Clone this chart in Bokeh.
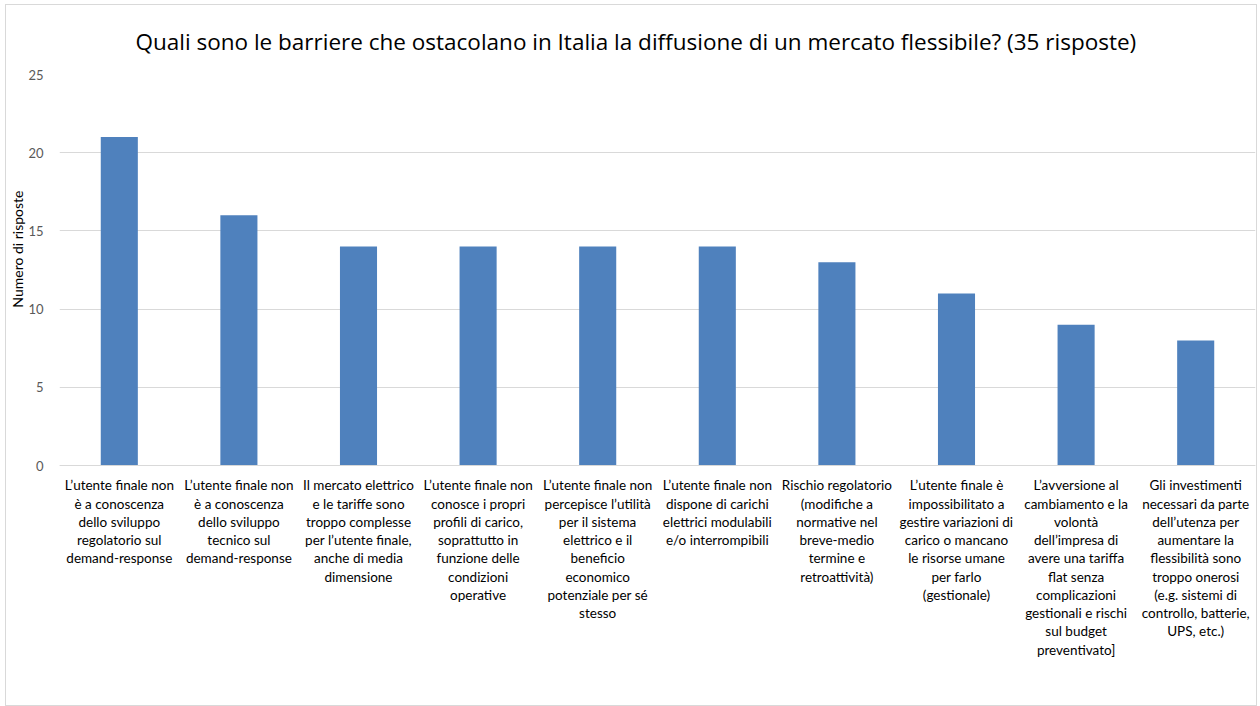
from bokeh.plotting import figure
from bokeh.models import ColumnDataSource, FixedTicker, Range1d, Span, Title
from bokeh.core.properties import value
from bokeh.embed import file_html
from bokeh.resources import INLINE

categories = [
    "L'utente finale non è a conoscenza dello sviluppo regolatorio sul demand-response",
    "L'utente finale non è a conoscenza dello sviluppo tecnico sul demand-response",
    "Il mercato elettrico e le tariffe sono troppo complesse per l'utente finale, anche di media dimensione",
    "L'utente finale non conosce i propri profili di carico, soprattutto in funzione delle condizioni operative",
    "L'utente finale non percepisce l'utilità per il sistema elettrico e il beneficio economico potenziale per sé stesso",
    "L'utente finale non dispone di carichi elettrici modulabili e/o interrompibili",
    "Rischio regolatorio (modifiche a normative nel breve-medio termine e retroattività)",
    "L'utente finale è impossibilitato a gestire variazioni di carico o mancano le risorse umane per farlo (gestionale)",
    "L'avversione al cambiamento e la volontà dell'impresa di avere una tariffa flat senza complicazioni gestionali e rischi sul budget preventivato]",
    "Gli investimenti necessari da parte dell'utenza per aumentare la flessibilità sono troppo onerosi (e.g. sistemi di controllo, batterie, UPS, etc.)",
]
tick_labels = [
    "L\u2019utente finale non\nè a conoscenza\ndello sviluppo\nregolatorio sul\ndemand-response",
    "L\u2019utente finale non\nè a conoscenza\ndello sviluppo\ntecnico sul\ndemand-response",
    "Il mercato elettrico\ne le tariffe sono\ntroppo complesse\nper l\u2019utente finale,\nanche di media\ndimensione",
    "L\u2019utente finale non\nconosce i propri\nprofili di carico,\nsoprattutto in\nfunzione delle\ncondizioni\noperative",
    "L\u2019utente finale non\npercepisce l\u2019utilità\nper il sistema\nelettrico e il\nbeneficio\neconomico\npotenziale per sé\nstesso",
    "L\u2019utente finale non\ndispone di carichi\nelettrici modulabili\ne/o interrompibili",
    "Rischio regolatorio\n(modifiche a\nnormative nel\nbreve-medio\ntermine e\nretroattività)",
    "L\u2019utente finale è\nimpossibilitato a\ngestire variazioni di\ncarico o mancano\nle risorse umane\nper farlo\n(gestionale)",
    "L\u2019avversione al\ncambiamento e la\nvolontà\ndell\u2019impresa di\navere una tariffa\nflat senza\ncomplicazioni\ngestionali e rischi\nsul budget\npreventivato]",
    "Gli investimenti\nnecessari da parte\ndell\u2019utenza per\naumentare la\nflessibilità sono\ntroppo onerosi\n(e.g. sistemi di\ncontrollo, batterie,\nUPS, etc.)",
]
values = [21, 16, 14, 14, 14, 14, 13, 11, 9, 8]
y_ticks = [0, 5, 10, 15, 20, 25]
title_text = "Quali sono le barriere che ostacolano in Italia la diffusione di un mercato flessibile? (35 risposte)"
y_label = "Numero di risposte"

FONT = "Lato"

source = ColumnDataSource(dict(cat=categories, val=values))
lab_source = ColumnDataSource(dict(cat=categories, txt=tick_labels, y=[-0.76] * len(categories)))

p = figure(
    x_range=categories,
    y_range=Range1d(-15.47, 25),
    width=1252,
    height=702,
    output_backend="svg",
    toolbar_location=None,
    min_border_left=10,
    min_border_right=3,
    min_border_top=69,
    min_border_bottom=0,
)
p.styles = {"margin-left": "5px", "margin-top": "4px", "border": "1px solid #d9d9d9"}

p.vbar(x="cat", top="val", width=0.31, source=source, fill_color="#4f81bd", line_color=None)

# baseline (category axis line)
p.add_layout(Span(location=0, dimension="width", line_color="#d9d9d9", line_width=1))

p.text(x="cat", y="y", text="txt", source=lab_source,
       text_font=value(FONT), text_font_size="13.5px", text_color="#000000",
       text_align="center", text_baseline="top", text_line_height=1.14)

p.add_layout(Title(text=title_text, align="left", offset=76, standoff=36,
                   text_font="Open Sans", text_font_size="22.5px", text_font_style="normal",
                   text_color="#000000"), "above")
p.add_layout(Title(text=y_label, align="right", offset=116, standoff=0,
                   text_font=FONT, text_font_size="14px", text_font_style="normal",
                   text_color="#000000"), "left")

p.outline_line_color = None
p.xgrid.grid_line_color = None
p.ygrid.grid_line_color = "#d9d9d9"
p.ygrid.grid_line_width = 1
p.ygrid.ticker = FixedTicker(ticks=y_ticks)

p.yaxis.ticker = FixedTicker(ticks=y_ticks)
p.yaxis.axis_line_color = None
p.yaxis.major_tick_line_color = None
p.yaxis.minor_tick_line_color = None
p.yaxis.major_label_text_font = FONT
p.yaxis.major_label_text_font_size = "13px"
p.yaxis.major_label_text_color = "#595959"
p.yaxis.major_label_standoff = 10

p.xaxis.visible = False

open("out.html", "w").write(file_html(p, INLINE))
